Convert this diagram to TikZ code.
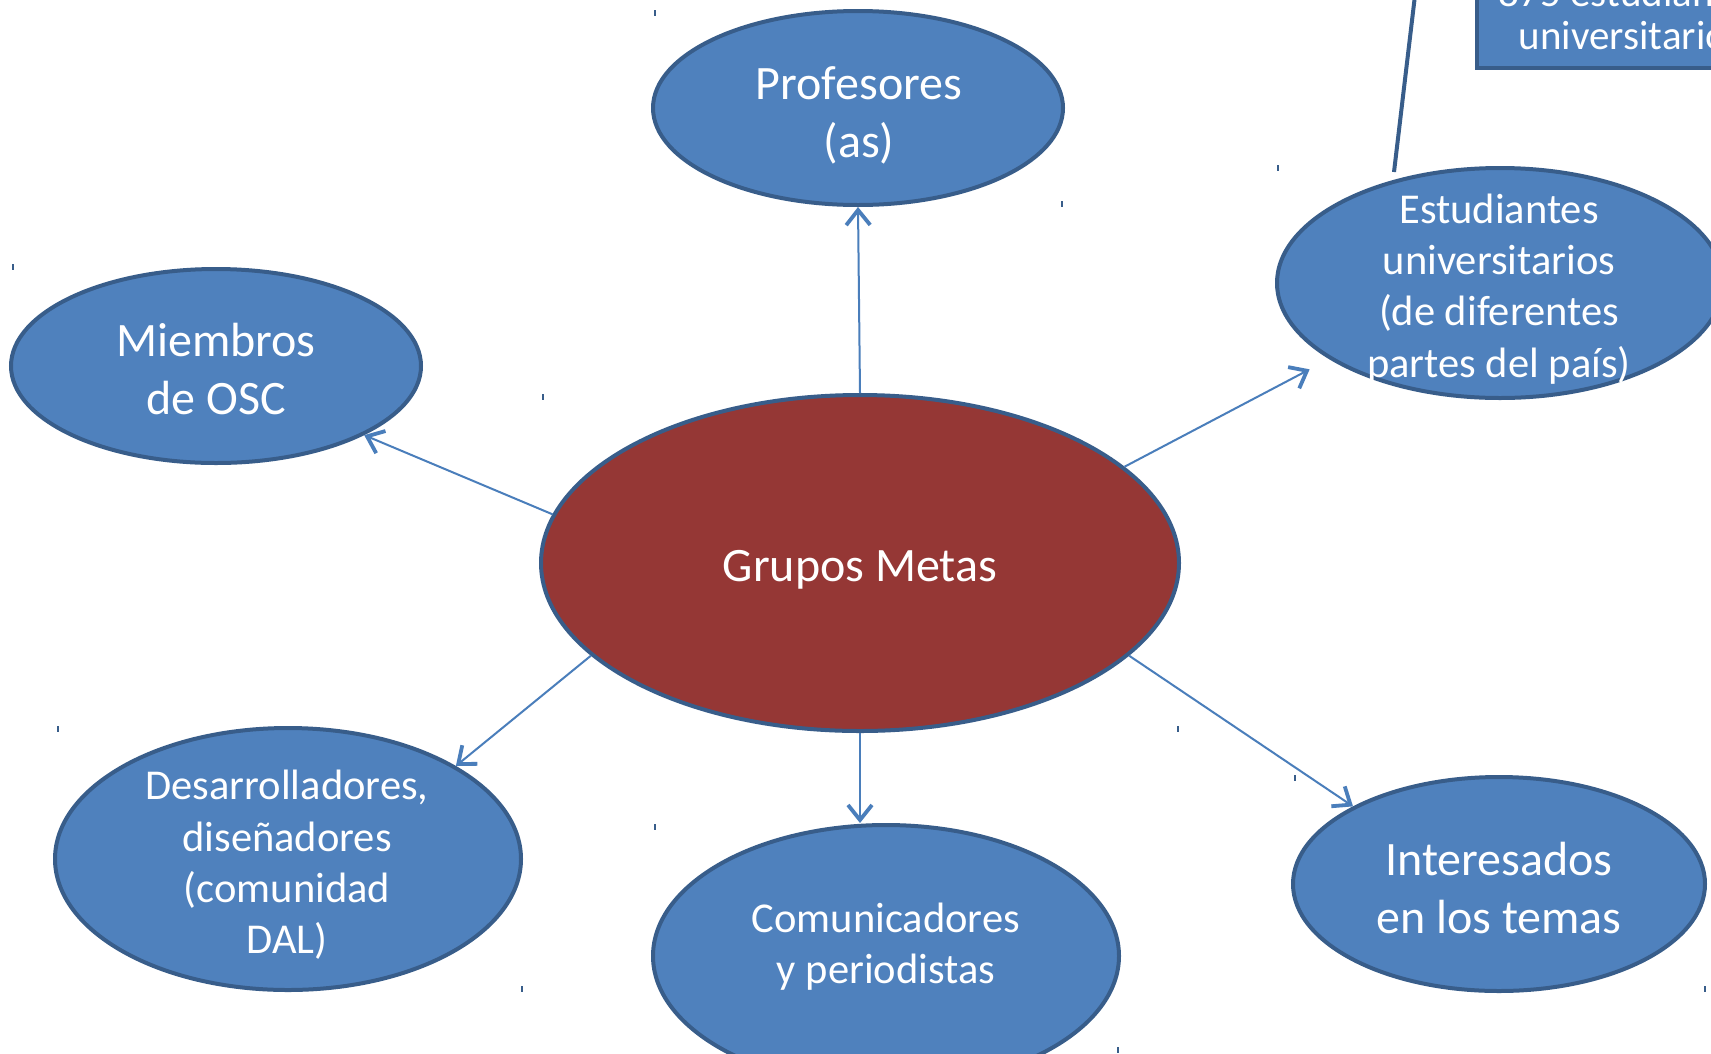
\documentclass[tikz,border=0pt]{standalone}
\usepackage{fontspec}
\setmainfont{Carlito}
\usetikzlibrary{shapes.geometric,arrows.meta}
\definecolor{bfill}{HTML}{4F81BD}
\definecolor{bline}{HTML}{385D8A}
\definecolor{rfill}{HTML}{953735}
\definecolor{arrc}{HTML}{4A7EBB}
\tikzset{
  ellnode/.style={ellipse, draw=bline, line width=4pt, fill=bfill, inner sep=0pt},
  lbl/.style={text=white, align=center, inner sep=0pt},
  big/.style={font=\fontsize{48}{58}\selectfont},
  small/.style={font=\fontsize{42.5}{51.3}\selectfont},
  boxfont/.style={font=\fontsize{41}{43}\selectfont},
  arr/.style={draw=arrc, line width=2pt, -{Straight Barb[length=15pt,width=24pt,line width=3.8pt]}},
  tickmk/.style={draw=bline, line width=1.5pt},
}
\begin{document}
\begin{tikzpicture}[x=1pt,y=-1pt]
\useasboundingbox (0,0) rectangle (1711,1053);
\clip (0,0) rectangle (1711,1053);
\fill[white] (0,0) rectangle (1711,1053);

% ellipses
\node[ellnode, minimum width=410pt, minimum height=194pt] (prof) at (858,108) {};
\node[lbl,big] (proft) at (859,115) {Profesores\\(as)};

\node[ellnode, minimum width=410pt, minimum height=194pt] (miem) at (216,366) {};
\node[lbl,big] (miemt) at (216,369) {Miembros\\de OSC};

\node[ellipse, draw=bline, line width=4pt, fill=rfill, inner sep=0pt, minimum width=638pt, minimum height=336pt] (c) at (860,563) {};
\node[lbl,big] (ct) at (860,570) {Grupos Metas};

\node[ellnode, minimum width=446pt, minimum height=230pt] (est) at (1500,283) {};
\node[lbl,small] (estt) at (1499,289) {Estudiantes\\universitarios\\(de diferentes\\partes del país)};

\node[ellnode, minimum width=466pt, minimum height=262pt] (des) at (288,859) {};
\node[lbl,small] (dest) at (287,865) {Desarrolladores,\\diseñadores\\(comunidad\\DAL)};

\node[ellnode, minimum width=466pt, minimum height=262pt] (com) at (886,956) {};
\node[lbl,small] (comt) at (886,947) {Comunicadores\\y periodistas};

\node[ellnode, minimum width=412pt, minimum height=214pt] (int) at (1499,884) {};
\node[lbl,big] (intt) at (1499,888) {Interesados\\en los temas};

% top-right box
\node[rectangle, draw=bline, line width=4pt, fill=bfill, minimum width=308pt, minimum height=130pt, inner sep=0pt] (box) at (1631,3) {};
\node[lbl,boxfont] (boxt) at (1631,14) {875 estudiantes\\universitarios};
\coordinate (lktop) at (1418,-30);
\coordinate (lkbot) at (1394,172);
\draw[draw=bline, line width=4pt] (lktop) -- (lkbot);

% arrows
\draw[arr] (c.north) -- (prof.south);
\draw[arr] (c.171.4) -- (miem.335);
\draw[arr, shorten >=22pt] (c.20.7) -- (est.204);
\draw[arr] (c.199.5) -- (des.29.5);
\draw[arr] (c.south) -- (c.south |- com.north);
\draw[arr] (c.341.3) -- (int.152.5);

% small marks
\foreach \p in {(655,10),(1278,165),(1062,201),(13,264),(543,394),(58,726),(655,824),(1178,726),(1295,775),(522,986),(1705,986),(1118,1047)}
  \draw[tickmk] \p -- ++(0,6);
\end{tikzpicture}
\end{document}
